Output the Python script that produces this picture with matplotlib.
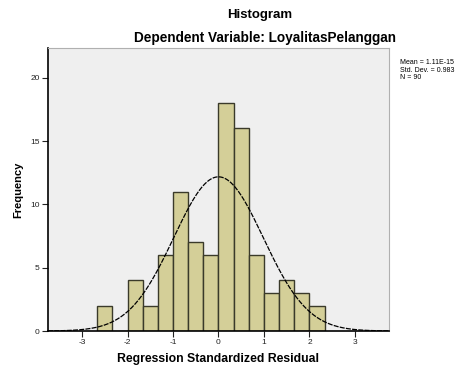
import numpy as np
import matplotlib.pyplot as plt

# histogram bins (left edges) and frequencies
bin_edges = [-8/3, -7/3, -2.0, -5/3, -4/3, -1.0, -2/3, -1/3, 0.0,
             1/3, 2/3, 1.0, 4/3, 5/3, 2.0, 7/3]
counts = [2, 0, 4, 2, 6, 11, 7, 6, 18, 16, 6, 3, 4, 3, 2]

mean = 1.11e-15
std_dev = 0.983
n = 90

x_ticks = [-3, -2, -1, 0, 1, 2, 3]
y_ticks = [0, 5, 10, 15, 20]

plt.rcParams['font.family'] = ['Liberation Sans', 'DejaVu Sans']
plt.rcParams['axes.unicode_minus'] = False

fig = plt.figure(figsize=(4.64, 3.68), dpi=100)
ax = fig.add_axes([48/464, 37/368, 341/464, 283/368])
ax.set_facecolor('#efefef')

widths = np.diff(bin_edges)
ax.bar(bin_edges[:-1], counts, width=widths, align='edge',
       color='#d4cf98', edgecolor='#3a3a2a', linewidth=1.0)

# fitted normal curve
bw = bin_edges[1] - bin_edges[0]
xs = np.linspace(-3.75, 3.75, 400)
ys = n * bw * np.exp(-0.5 * ((xs - 0) / std_dev) ** 2) / (std_dev * np.sqrt(2 * np.pi))
ax.plot(xs, ys, color='black', linewidth=0.9, linestyle=(0, (4, 1)))

ax.set_xlim(-3.75, 3.75)
ax.set_ylim(0, 22.35)
ax.set_xticks(x_ticks)
ax.set_yticks(y_ticks)
ax.tick_params(labelsize=6, length=4, width=0.8, colors='#222222', pad=2)

for side in ['top', 'right']:
    ax.spines[side].set_color('#b0b0b0')
    ax.spines[side].set_linewidth(0.8)
for side in ['left', 'bottom']:
    ax.spines[side].set_color('black')
    ax.spines[side].set_linewidth(1.2)

ax.set_xlabel('Regression Standardized Residual', fontsize=8.8, fontweight='bold', labelpad=5)
ax.set_ylabel('Frequency', fontsize=8, fontweight='bold', labelpad=5)

fig.text(0.56, 0.958, 'Histogram', ha='center', va='center', fontsize=9.5, fontweight='bold')
fig.text(0.572, 0.897, 'Dependent Variable: LoyalitasPelanggan', ha='center', va='center',
         fontsize=9.8, fontweight='bold')

fig.text(400/464, 1 - 70/368,
         'Mean = %.2E\nStd. Dev. = %.3f\nN = %d' % (mean, std_dev, n),
         ha='left', va='center', fontsize=5, linespacing=1.1)

fig.savefig('out.png', dpi=100)
